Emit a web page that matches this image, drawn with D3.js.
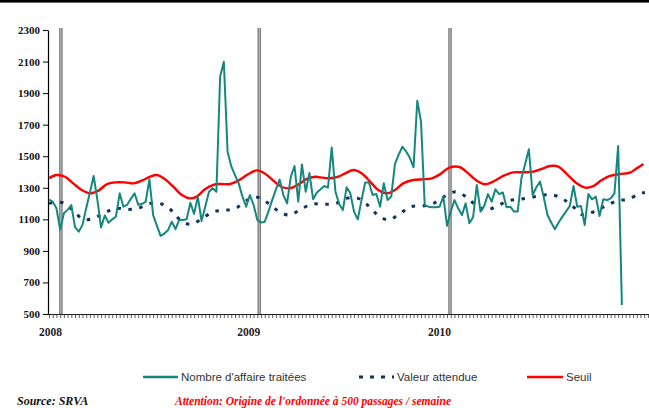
<!DOCTYPE html>
<html>
<head>
<meta charset="utf-8">
<script src="https://cdn.jsdelivr.net/npm/d3@7"></script>
<style>
  body { margin: 0; background: #fff; }
  svg { display: block; }
</style>
</head>
<body>
<div id="container"></div>
<script>
// weekly values, week 0 = first week shown
const traitees = [
  1225, 1212, 1170, 1035, 1138, 1160, 1190, 1050, 1022, 1065,
  1170, 1270, 1375, 1225, 1048, 1125, 1078, 1100, 1118, 1265,
  1180, 1192, 1230, 1265, 1192, 1197, 1212, 1354, 1127, 1060,
  995, 1010, 1032, 1085, 1038, 1096, 1096, 1100, 1205, 1134,
  1244, 1090, 1180, 1275, 1297, 1275, 2004, 2099, 1530, 1435,
  1380, 1328, 1244, 1180, 1254, 1191, 1096, 1079, 1085, 1150,
  1222, 1290, 1352, 1254, 1201, 1370, 1438, 1212, 1448, 1275,
  1393, 1228, 1270, 1290, 1311, 1301, 1556, 1275, 1197, 1159,
  1303, 1265, 1149, 1100, 1220, 1333, 1333, 1254, 1260, 1180,
  1328, 1222, 1244, 1451, 1510, 1560, 1530, 1490, 1430, 1852,
  1720, 1191, 1180, 1176, 1176, 1180, 1244, 1060, 1150, 1222,
  1170, 1127, 1201, 1075, 1113, 1318, 1149, 1185, 1260, 1212,
  1290, 1260, 1270, 1176, 1180, 1149, 1150, 1360, 1450, 1544,
  1254, 1303, 1339, 1240, 1127, 1080, 1037, 1080, 1117, 1150,
  1185, 1311, 1180, 1185, 1064, 1260, 1227, 1244, 1121, 1227,
  1222, 1233, 1265, 1565, 557
]

// [week, value]
const attendue = [
  [0, 1201], [3.8, 1205], [6.5, 1155], [9.2, 1100], [11.9, 1106], [15, 1142],
  [18, 1170], [21, 1163], [24, 1170], [27.2, 1201], [30.3, 1197], [33.3, 1149],
  [35.7, 1085], [38.4, 1070], [41.2, 1106], [44.2, 1149], [47.3, 1157], [50.3, 1172],
  [53.4, 1223], [56.3, 1239], [59.2, 1197], [61.9, 1149], [64.6, 1127], [67.7, 1164],
  [70.8, 1197], [73.9, 1195], [77.1, 1201], [80, 1233], [83.1, 1233], [85.8, 1187],
  [88.4, 1127], [91.2, 1096], [94.2, 1134], [97.2, 1180], [100.4, 1185], [103.2, 1199],
  [106.2, 1244], [109.4, 1275], [112.3, 1239], [115, 1185], [117.5, 1159], [120.5, 1185],
  [123.5, 1218], [126.4, 1227], [129.5, 1239], [132.7, 1254], [135.6, 1254], [138.3, 1227],
  [140.9, 1180], [143.6, 1127], [146.5, 1149], [149.7, 1185], [152.8, 1218], [155.7, 1227],
  [158.5, 1260], [160.2, 1270]
]

const seuil = [
  [0, 1360], [2, 1381], [4.3, 1370], [6.5, 1328], [8.8, 1286], [11, 1265],
  [13.3, 1282], [15.5, 1322], [17.7, 1334], [20.4, 1334], [22.7, 1328], [24.9, 1345],
  [27.2, 1370], [29, 1381], [31.2, 1354], [33.4, 1307], [35.7, 1254], [37.9, 1233],
  [39.7, 1244], [41.9, 1290], [44.2, 1318], [46, 1324], [48.7, 1324], [50.9, 1345],
  [53.6, 1387], [55.8, 1410], [58, 1391], [60.3, 1345], [62.6, 1305], [64.8, 1297],
  [67, 1320], [69.3, 1356], [71.5, 1370], [72.8, 1366], [75.5, 1360], [77.8, 1370],
  [80, 1396], [81.8, 1413], [84.1, 1391], [86.3, 1339], [88.5, 1286], [90.8, 1265],
  [93, 1286], [95.2, 1328], [97.9, 1349], [100.6, 1354], [102.9, 1360], [105.1, 1385],
  [107.6, 1428], [110.5, 1430], [112.7, 1391], [115, 1345], [117.2, 1322], [119.4, 1339],
  [122.1, 1375], [124.8, 1398], [127.5, 1398], [130.2, 1402], [132.4, 1419], [134.7, 1438],
  [136.9, 1434], [139.2, 1387], [141.9, 1328], [144.1, 1301], [146.3, 1311], [148.6, 1349],
  [150.8, 1375], [153.5, 1387], [156.2, 1396], [158, 1423], [159.8, 1451]
]

const yearWeeks = [3.2, 56.5, 107.8]
const yearLabels = ['2008', '2009', '2010']
const yTicks = [500, 700, 900, 1100, 1300, 1500, 1700, 1900, 2100, 2300]
const nWeeks = 162

const W = 649, H = 408

const svg = d3.select('#container').append('svg')
  .attr('width', W)
  .attr('height', H)

const x = d3.scaleLinear().domain([0, 161]).range([49, 49 + 3.72 * 161])
const y = d3.scaleLinear().domain([500, 2300]).range([314, 30])

// top rule
svg.append('rect')
  .attr('x', 0).attr('y', 0)
  .attr('width', W).attr('height', 2.6)
  .attr('fill', '#000')

// x axis : weekly ticks
const xAxis = svg.append('g')
  .attr('transform', 'translate(0,314)')
  .call(d3.axisBottom(x)
    .tickValues(d3.range(0, nWeeks))
    .tickFormat('')
    .tickSize(4)
    .tickSizeOuter(0))
xAxis.select('.domain').remove()
xAxis.selectAll('.tick line').attr('stroke', '#333').attr('stroke-width', 0.8)
xAxis.append('line')
  .attr('x1', 48).attr('x2', W)
  .attr('y1', 0.5).attr('y2', 0.5)
  .attr('stroke', '#222').attr('stroke-width', 1.2)

// y axis
const yAxis = svg.append('g')
  .attr('transform', 'translate(48,0)')
  .call(d3.axisLeft(y)
    .tickValues(yTicks)
    .tickFormat(d3.format('d'))
    .tickSize(5)
    .tickSizeOuter(0)
    .tickPadding(3))
yAxis.select('.domain').attr('stroke', '#000').attr('stroke-width', 1.2)
yAxis.selectAll('.tick line').attr('stroke', '#000')
yAxis.selectAll('.tick text')
  .attr('font-family', '"Liberation Serif", "Times New Roman", serif')
  .attr('font-weight', 'bold')
  .attr('font-size', '11px')
  .attr('fill', '#111')

// year separators
yearWeeks.forEach((w, i) => {
  svg.append('line')
    .attr('x1', x(w)).attr('x2', x(w))
    .attr('y1', 28).attr('y2', 314)
    .attr('stroke', '#555').attr('stroke-width', 3.2)
  svg.append('line')
    .attr('x1', x(w)).attr('x2', x(w))
    .attr('y1', 28).attr('y2', 314)
    .attr('stroke', '#c3cccb').attr('stroke-width', 1.3)
  svg.append('text')
    .attr('x', x(w) + 1)
    .attr('y', 336)
    .attr('text-anchor', 'end')
    .attr('font-family', '"Liberation Serif", "Times New Roman", serif')
    .attr('font-weight', 'bold')
    .attr('font-size', '11.5px')
    .attr('fill', '#222')
    .text(yearLabels[i])
})

// series
svg.append('path')
  .datum(seuil)
  .attr('fill', 'none')
  .attr('stroke', '#ff0000')
  .attr('stroke-width', 2.4)
  .attr('d', d3.line().x(d => x(d[0])).y(d => y(d[1])).curve(d3.curveCatmullRom))

svg.append('path')
  .datum(attendue)
  .attr('fill', 'none')
  .attr('stroke', '#0f3460')
  .attr('stroke-width', 3)
  .attr('stroke-dasharray', '3.5,7.5')
  .attr('d', d3.line().x(d => x(d[0])).y(d => y(d[1])).curve(d3.curveCatmullRom))

svg.append('path')
  .datum(traitees)
  .attr('fill', 'none')
  .attr('stroke', '#16877f')
  .attr('stroke-width', 2)
  .attr('stroke-linejoin', 'round')
  .attr('d', d3.line().x((d, i) => x(i)).y(d => y(d)))

// legend
const legend = [
  { label: "Nombre d'affaire traitées", color: '#16877f', x1: 143, x2: 178, dash: null, w: 2.4 },
  { label: 'Valeur attendue', color: '#0f3460', x1: 359, x2: 394, dash: '4,7', w: 3 },
  { label: 'Seuil', color: '#ff0000', x1: 527, x2: 563, dash: null, w: 2.4 }
]
legend.forEach(d => {
  svg.append('line')
    .attr('x1', d.x1).attr('x2', d.x2)
    .attr('y1', 377).attr('y2', 377)
    .attr('stroke', d.color)
    .attr('stroke-width', d.w)
    .attr('stroke-dasharray', d.dash)
  svg.append('text')
    .attr('x', d.x2 + 3)
    .attr('y', 381)
    .attr('font-family', '"Liberation Sans", Arial, sans-serif')
    .attr('font-size', '11.5px')
    .attr('fill', '#333')
    .text(d.label)
})

// footnotes
svg.append('text')
  .attr('x', 17).attr('y', 405)
  .attr('font-family', '"Liberation Serif", "Times New Roman", serif')
  .attr('font-weight', 'bold').attr('font-style', 'italic')
  .attr('font-size', '12px')
  .attr('fill', '#111')
  .text('Source: SRVA')

svg.append('text')
  .attr('x', 175).attr('y', 405)
  .attr('font-family', '"Liberation Serif", "Times New Roman", serif')
  .attr('font-weight', 'bold').attr('font-style', 'italic')
  .attr('font-size', '11.5px')
  .attr('fill', '#ff0000')
  .text("Attention: Origine de l'ordonnée à 500 passages / semaine")
</script>
</body>
</html>
